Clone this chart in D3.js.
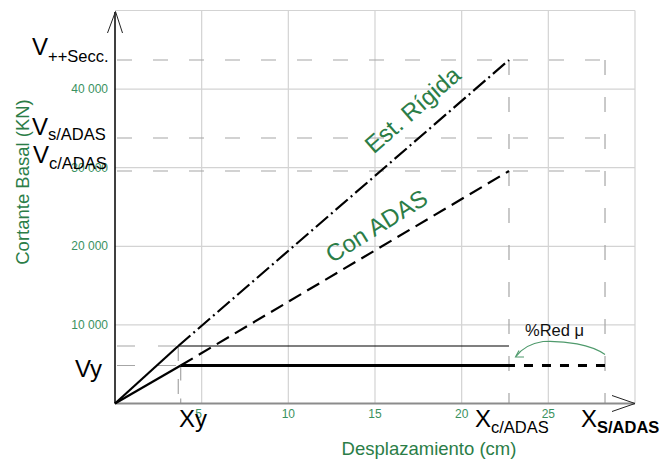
<!DOCTYPE html>
<html><head><meta charset="utf-8">
<script src="https://cdn.jsdelivr.net/npm/d3@7"></script>
<style>
html,body{margin:0;padding:0;background:#fff;}
svg{display:block;font-family:"Liberation Sans",Arial,sans-serif;}
</style></head>
<body>
<svg id="chart" width="665" height="463"></svg>
<script>
// ---- data ----
const xTicks = [5, 10, 15, 20, 25];
const yTicks = [10000, 20000, 30000, 40000];
const xGrid = [5, 10, 15, 20, 25, 30];
const yGrid = [10000, 20000, 30000, 40000, 50000];
const xDomain = [0, 30];
const yDomain = [0, 50000];
// key displacements (cm)
const xyRigida = 3.65, xyAdas = 3.79, xcAdas = 22.73, xsAdas = 28.27;
// key shear levels (KN)
const vSecc = 43700, vsAdas = 33780, vcAdas = 29580, vyRigida = 7315, vy = 4835;
const rigidaElastic = [[0, 0], [xyRigida, vyRigida]];
const rigidaCurve = [[xyRigida, vyRigida], [xcAdas, vSecc]];
const adasElastic = [[0, 0], [xyAdas, vy]];
const adasCurve = [[xyAdas, vy], [xcAdas, vcAdas]];
const plateauSolid = [[xyAdas, vy], [xcAdas, vy]];
const plateauDashed = [[xcAdas, vy], [xsAdas, vy]];
const rigidYield = [[xyRigida, vyRigida], [xcAdas, vyRigida]];

// ---- scales ----
const svg = d3.select("#chart");
const x = d3.scaleLinear().domain(xDomain).range([115, 635]);
const y = d3.scaleLinear().domain(yDomain).range([403.5, 10.5]);
const line = d3.line().x(d => x(d[0])).y(d => y(d[1]));

const green = "#3a9160", greenDark = "#2b7d47", greyDash = "#a6a6a6";

// grid
svg.append("g").selectAll("line").data(xGrid).join("line")
  .attr("x1", d => x(d)).attr("x2", d => x(d)).attr("y1", y(0)).attr("y2", y(50000))
  .attr("stroke", "#d3d3d3").attr("stroke-width", 1.2);
svg.append("g").selectAll("line").data(yGrid).join("line")
  .attr("x1", x(0)).attr("x2", x(30)).attr("y1", d => y(d)).attr("y2", d => y(d))
  .attr("stroke", "#d3d3d3").attr("stroke-width", 1.2);

// grey dashed reference lines
const dashG = svg.append("g").attr("stroke", greyDash).attr("stroke-width", 1.2).attr("fill", "none");
[vSecc, vsAdas, vcAdas].forEach(v => {
  dashG.append("line").attr("x1", x(0)).attr("x2", x(xsAdas)).attr("y1", y(v)).attr("y2", y(v))
    .attr("stroke-dasharray", "15,21").attr("stroke-dashoffset", -2);
});
[[vyRigida, xyRigida], [vy, xyAdas]].forEach(([v, xv]) => {
  dashG.append("line").attr("x1", x(0)).attr("x2", x(xv)).attr("y1", y(v)).attr("y2", y(v))
    .attr("stroke-dasharray", "18,23").attr("stroke-dashoffset", -2);
  dashG.append("line").attr("x1", x(xv)).attr("x2", x(xv)).attr("y1", y(v)).attr("y2", y(0))
    .attr("stroke-dasharray", "15,18");
});
[xcAdas, xsAdas].forEach(xv => {
  dashG.append("line").attr("x1", x(xv)).attr("x2", x(xv)).attr("y1", y(vSecc)).attr("y2", y(0))
    .attr("stroke-dasharray", "15,22");
});

// axes
svg.append("line").attr("x1", x(0)).attr("x2", x(30)).attr("y1", y(0)).attr("y2", y(0))
  .attr("stroke", "#8c8c8c").attr("stroke-width", 2);
svg.append("path").attr("d", `M${x(30)-23},${y(0)-8}L${x(30)},${y(0)}L${x(30)-23},${y(0)+8}`)
  .attr("fill", "none").attr("stroke", "#222").attr("stroke-width", 1);
svg.append("line").attr("x1", x(0)).attr("x2", x(0)).attr("y1", y(0)).attr("y2", 12)
  .attr("stroke", "#000").attr("stroke-width", 1.5);
svg.append("path").attr("d", `M${x(0)-7.5},33L${x(0)+0.5},11.5L${x(0)+7.5},33`)
  .attr("fill", "none").attr("stroke", "#222").attr("stroke-width", 1);

// tick labels
svg.append("g").selectAll("text").data(xTicks).join("text")
  .attr("x", d => x(d) - (d === 5 ? 3 : 0)).attr("y", 418).attr("text-anchor", "middle")
  .attr("font-size", 12).attr("fill", green).text(d => d);
svg.append("g").selectAll("text").data(yTicks).join("text")
  .attr("x", 108).attr("y", d => y(d) + 4).attr("text-anchor", "end")
  .attr("font-size", 12).attr("fill", green).text(d => d3.format(",")(d).replace(",", " "));

// axis titles
svg.append("text").attr("transform", "translate(29,182) rotate(-90)").attr("text-anchor", "middle")
  .attr("font-size", 18.5).attr("fill", greenDark).text("Cortante Basal (KN)");
svg.append("text").attr("x", 429).attr("y", 455).attr("text-anchor", "middle")
  .attr("font-size", 18.5).attr("fill", greenDark).text("Desplazamiento (cm)");

// curves
svg.append("path").attr("d", line(rigidaElastic)).attr("stroke", "#000").attr("stroke-width", 2.2).attr("fill", "none");
svg.append("path").attr("d", line(rigidaCurve)).attr("stroke", "#000").attr("stroke-width", 2.2).attr("fill", "none")
  .attr("stroke-dasharray", "16,4,2,4");
svg.append("path").attr("d", line(adasElastic)).attr("stroke", "#000").attr("stroke-width", 2.2).attr("fill", "none");
svg.append("path").attr("d", line(adasCurve)).attr("stroke", "#000").attr("stroke-width", 2.2).attr("fill", "none")
  .attr("stroke-dasharray", "14,7");
svg.append("path").attr("d", line(rigidYield)).attr("stroke", "#000").attr("stroke-width", 1.1).attr("fill", "none");
svg.append("path").attr("d", line(plateauSolid)).attr("stroke", "#000").attr("stroke-width", 3).attr("fill", "none");
svg.append("path").attr("d", line(plateauDashed)).attr("stroke", "#000").attr("stroke-width", 3).attr("fill", "none")
  .attr("stroke-dasharray", "9,9").attr("stroke-dashoffset", 3);

// line labels
const angR = Math.atan2(y(vSecc) - y(0), x(xcAdas) - x(0)) * 180 / Math.PI;
svg.append("text").attr("transform", `translate(418,116) rotate(${angR})`).attr("text-anchor", "middle")
  .attr("font-size", 24).attr("fill", greenDark).text("Est. Rígida");
svg.append("text").attr("transform", `translate(381,233) rotate(-32)`).attr("text-anchor", "middle")
  .attr("font-size", 24).attr("fill", greenDark).text("Con ADAS");

// big labels
function lab(xp, yp, main, sub, subDy, bold) {
  const t = svg.append("text").attr("x", xp).attr("y", yp).attr("fill", "#000").attr("font-size", 24);
  t.append("tspan").text(main);
  if (sub) t.append("tspan").attr("font-size", 16.5).attr("dy", subDy)
    .attr("font-weight", bold ? "bold" : "normal").text(sub);
}
lab(32, 55, "V", "++Secc.", 7);
lab(32, 135, "V", "s/ADAS", 5);
lab(33, 163, "V", "c/ADAS", 6);
lab(75, 377, "Vy");
lab(179, 427, "Xy");
lab(475, 427, "X", "c/ADAS", 6);
lab(581, 427, "X", "S/ADAS", 6, true);

// %Red μ annotation
svg.append("text").attr("x", 525).attr("y", 336).attr("font-size", 16.5).attr("fill", "#111").text("%Red μ");
const xs = x(xsAdas), xc = x(xcAdas), yv = y(vy);
svg.append("path")
  .attr("d", `M${xs},${yv-11} C${xs-14},${yv-21} ${xs-40},${yv-25} ${xs-62},${yv-24} C${xs-75},${yv-22} ${xc+12},${yv-16} ${xc+7},${yv-9}`)
  .attr("fill", "none").attr("stroke", "#4f9a6c").attr("stroke-width", 1.1);
svg.append("path").attr("d", `M${xc+10},${yv-15}L${xc+6.5},${yv-8.5}L${xc+15},${yv-8.5}`)
  .attr("fill", "none").attr("stroke", "#4f9a6c").attr("stroke-width", 1.1);
</script>
</body></html>
